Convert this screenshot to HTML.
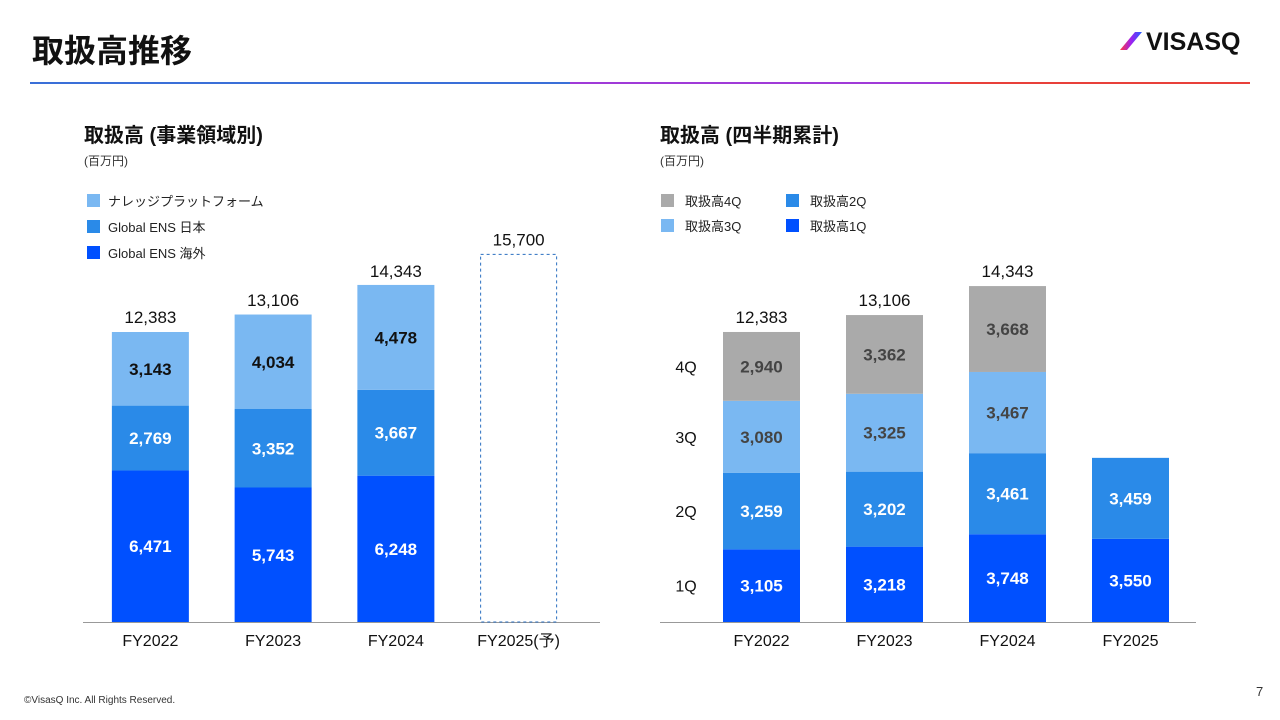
<!DOCTYPE html>
<html><head><meta charset="utf-8">
<style>
body{margin:0;width:1280px;height:720px;background:#fff;overflow:hidden;font-family:"Liberation Sans","Noto Sans CJK JP",sans-serif;}
svg{position:absolute;left:0;top:0}
text{font-family:"Liberation Sans","Noto Sans CJK JP",sans-serif}
</style></head>
<body>
<svg id="s" width="1280" height="720">
<defs>
<linearGradient id="lg" x1="0" x2="1"><stop offset="0" stop-color="#ff3b3b"/><stop offset="0.5" stop-color="#a020f0"/><stop offset="1" stop-color="#2060ff"/></linearGradient>
</defs>
<text x="32" y="62" font-size="32" font-weight="bold" fill="#111">取扱高推移</text>
<g>
<polygon points="1120,50 1127,50 1142,32 1135,32" fill="url(#lg)"/>
<text x="1146" y="50" font-size="25" font-weight="bold" fill="#111">VISASQ</text>
</g>
<rect x="30" y="82" width="540" height="2" fill="#3a6fd8"/>
<rect x="570" y="82" width="380" height="2" fill="#a03ad8"/>
<rect x="950" y="82" width="300" height="2" fill="#e8403a"/>

<text x="84" y="142" font-size="20" font-weight="bold" fill="#111">取扱高 (事業領域別)</text>
<text x="84" y="165" font-size="12" fill="#333">(百万円)</text>
<text x="660" y="142" font-size="20" font-weight="bold" fill="#111">取扱高 (四半期累計)</text>
<text x="660" y="165" font-size="12" fill="#333">(百万円)</text>

<g>
<rect x="87" y="194" width="13" height="13" fill="#7ab8f2"/><text x="108" y="206" font-size="13" fill="#222">ナレッジプラットフォーム</text>
<rect x="87" y="220" width="13" height="13" fill="#2a8ae8"/><text x="108" y="232" font-size="13" fill="#222">Global ENS 日本</text>
<rect x="87" y="246" width="13" height="13" fill="#0050ff"/><text x="108" y="258" font-size="13" fill="#222">Global ENS 海外</text>
</g>
<g>
<rect x="661" y="194" width="13" height="13" fill="#aaaaaa"/><text x="685" y="206" font-size="13" fill="#222">取扱高4Q</text>
<rect x="786" y="194" width="13" height="13" fill="#2a8ae8"/><text x="810" y="206" font-size="13" fill="#222">取扱高2Q</text>
<rect x="661" y="219" width="13" height="13" fill="#7ab8f2"/><text x="685" y="231" font-size="13" fill="#222">取扱高3Q</text>
<rect x="786" y="219" width="13" height="13" fill="#0050ff"/><text x="810" y="231" font-size="13" fill="#222">取扱高1Q</text>
</g>
<g id="L"></g><g id="R"></g>
<text x="24" y="703" font-size="10" fill="#333">©VisasQ Inc. All Rights Reserved.</text>
<text x="1256" y="696" font-size="13" fill="#333">7</text>
</svg>
<script>
const leftCats=["FY2022","FY2023","FY2024","FY2025(予)"];
const leftOverseas=[6471,5743,6248];
const leftJapan=[2769,3352,3667];
const leftKnowledge=[3143,4034,4478];
const leftTotals=[12383,13106,14343,15700];
const rightCats=["FY2022","FY2023","FY2024","FY2025"];
const q1=[3105,3218,3748,3550];
const q2=[3259,3202,3461,3459];
const q3=[3080,3325,3467,null];
const q4=[2940,3362,3668,null];
const rightTotals=[12383,13106,14343,null];
const qLabels=["1Q","2Q","3Q","4Q"];

const NS="http://www.w3.org/2000/svg";
const base=622, k=290/12383, bw=77;
const y=v=>base-v*k;
function mk(p,t,a){const e=document.createElementNS(NS,t);for(const n in a)e.setAttribute(n,a[n]);p.appendChild(e);return e;}
function fmt(v){return v.toLocaleString("en-US");}
function chart(g,x0,x1,ax0,ax1,cats,series,colors,txtColors,totals,dashIdx){
  const step=(x1-x0)/cats.length;
  const ax=mk(g,"line",{x1:ax0,x2:ax1,y1:base+0.5,y2:base+0.5,stroke:"#999","stroke-width":1});
  
  
  cats.forEach((c,i)=>{
    const cx=x0+step*(i+0.5);
    let acc=0;
    series.forEach((s,j)=>{
      const v=s[i]; if(v==null)return;
      const r=mk(g,"rect",{x:cx-bw/2,y:y(acc+v),width:bw,height:v*k,fill:colors[j]});
      
      
      const t=mk(g,"text",{x:cx,y:y(acc+v/2)+6,"text-anchor":"middle","font-size":17,"font-weight":"bold",fill:txtColors[j]});
      t.textContent=fmt(v);
      
      
      acc+=v;
    });
    if(i===dashIdx){
      const d=mk(g,"rect",{x:cx-bw/2+0.5,y:y(totals[i]),width:bw-1,height:totals[i]*k,fill:"none",stroke:"#2a6fc0","stroke-dasharray":"3,3"});
      
      
    }
    if(totals[i]!=null){
      const t=mk(g,"text",{x:cx,y:y(totals[i])-9,"text-anchor":"middle","font-size":17,fill:"#111"});
      t.textContent=fmt(totals[i]);
      
      
    }
    const l=mk(g,"text",{x:cx,y:base+24,"text-anchor":"middle","font-size":16,fill:"#111"});
    l.textContent=c;
    
    
  });
}
chart(document.getElementById("L"),89,580,83,600,leftCats,[leftOverseas,leftJapan,leftKnowledge],["#0050ff","#2a8ae8","#7ab8f2"],["#fff","#fff","#111"],leftTotals,3);
chart(document.getElementById("R"),700,1192,660,1196,rightCats,[q1,q2,q3,q4],["#0050ff","#2a8ae8","#7ab8f2","#aaaaaa"],["#fff","#fff","#444","#444"],rightTotals,-1);
const R=document.getElementById("R");
let acc=0;
[q1,q2,q3,q4].forEach((s,j)=>{
  const t=mk(R,"text",{x:686,y:y(acc+s[0]/2)+6,"text-anchor":"middle","font-size":16,fill:"#111"});
  t.textContent=qLabels[j];
  
  
  acc+=s[0];
});
</script>
</body></html>
